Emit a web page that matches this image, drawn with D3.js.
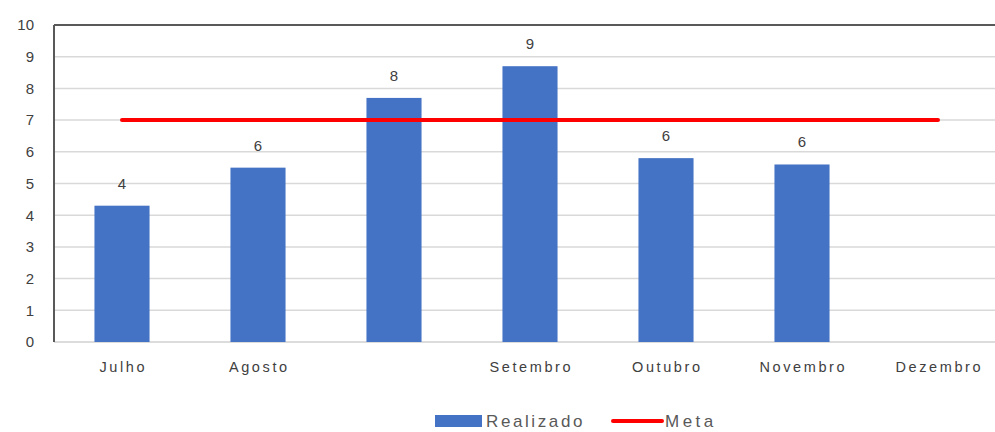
<!DOCTYPE html>
<html><head><meta charset="utf-8">
<script src="https://cdn.jsdelivr.net/npm/d3@7"></script>
<style>body{margin:0;background:#fff;overflow:hidden}svg{display:block;font-family:"Liberation Sans",Arial,sans-serif}</style>
</head><body><svg id="c" width="995" height="432"></svg>
<script>
const categories = ["Julho","Agosto","","Setembro","Outubro","Novembro","Dezembro"];
const realizado = [4.3, 5.5, 7.7, 8.7, 5.8, 5.6, null];
const realizadoLabels = ["4","6","8","9","6","6",""];
const meta = [7, 7, 7, 7, 7, 7, 7];
const yTicks = [0,1,2,3,4,5,6,7,8,9,10];

const svg = d3.select("#c");
const m = {left:54, top:25, right:1006, bottom:342};
const keys = categories.map((c,i)=>i);
const x = d3.scaleBand().domain(keys).range([m.left, m.right]).paddingInner(0.595).paddingOuter(0.2975);
const y = d3.scaleLinear().domain([0,10]).range([m.bottom, m.top]);

// gridlines
svg.append("g").selectAll("line").data(yTicks.filter(t=>t>0 && t<10)).join("line")
  .attr("x1", m.left).attr("x2", 995).attr("y1", d=>y(d)).attr("y2", d=>y(d))
  .attr("stroke", "#d9d9d9").attr("stroke-width", 1.5);
svg.append("line").attr("x1", m.left).attr("x2", 995).attr("y1", y(0)).attr("y2", y(0))
  .attr("stroke", "#d0d0d0").attr("stroke-width", 1.5);

// y axis
const yAxis = svg.append("g").attr("transform", `translate(${m.left},0)`)
  .call(d3.axisLeft(y).tickValues(yTicks).tickSize(0).tickPadding(20));
yAxis.select(".domain").remove();
yAxis.selectAll("text").attr("fill","#404040").style("font-size","15px");

// bars
const bw = x.bandwidth();
svg.append("g").selectAll("rect").data(keys.filter(i=>realizado[i]!=null)).join("rect")
  .attr("x", i=>x(i)).attr("width", bw)
  .attr("y", i=>y(realizado[i])).attr("height", i=>y(0)-y(realizado[i]))
  .attr("fill", "#4472c4");

// bar labels
svg.append("g").selectAll("text").data(keys.filter(i=>realizado[i]!=null)).join("text")
  .attr("x", i=>x(i)+bw/2).attr("y", i=>y(realizado[i])-17)
  .attr("text-anchor","middle").attr("fill","#404040").style("font-size","15px")
  .text(i=>realizadoLabels[i]);

// meta line
const line = d3.line().x((d,i)=>x(i)+bw/2).y(d=>y(d));
svg.append("path").datum(meta).attr("d", line).attr("fill","none")
  .attr("stroke","#ff0000").attr("stroke-width",4).attr("stroke-linecap","round");

// frame: left axis & top border
svg.append("line").attr("x1", m.left).attr("x2", m.left).attr("y1", m.top).attr("y2", m.bottom)
  .attr("stroke","#595959").attr("stroke-width",2);
svg.append("line").attr("x1", m.left).attr("x2", 995).attr("y1", m.top).attr("y2", m.top)
  .attr("stroke","#595959").attr("stroke-width",2);

// x labels
const xAxis = svg.append("g").attr("transform", `translate(0,${m.bottom})`)
  .call(d3.axisBottom(x).tickFormat(i=>categories[i]).tickSize(0).tickPadding(20));
xAxis.select(".domain").remove();
xAxis.selectAll("text").attr("fill","#404040").style("font-size","14.5px")
  .style("letter-spacing","2.6px").attr("dx","1.3px");

// legend
const lg = svg.append("g");
lg.append("rect").attr("x",435).attr("y",415).attr("width",47).attr("height",12).attr("fill","#4472c4");
lg.append("text").attr("x",486).attr("y",427).attr("fill","#595959").style("font-size","17px")
  .style("letter-spacing","2.6px").text("Realizado");
lg.append("line").attr("x1",613).attr("x2",662).attr("y1",421).attr("y2",421)
  .attr("stroke","#ff0000").attr("stroke-width",4).attr("stroke-linecap","round");
lg.append("text").attr("x",665).attr("y",427).attr("fill","#595959").style("font-size","17px")
  .style("letter-spacing","3.5px").text("Meta");
</script></body></html>
